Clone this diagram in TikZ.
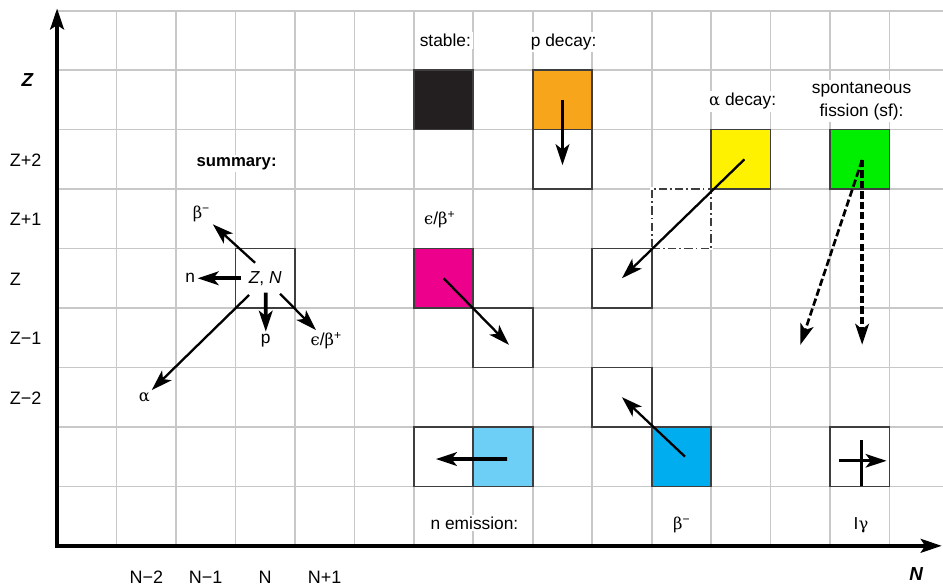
\documentclass[tikz,border=0pt]{standalone}
\usepackage{fontspec}
\setmainfont{Liberation Sans}
\newfontfamily\greekfont{DejaVu Serif}
\usetikzlibrary{positioning,calc,arrows.meta}

\definecolor{gridgray}{RGB}{200,200,200}
\definecolor{boxgray}{RGB}{62,62,62}
\definecolor{stableblack}{RGB}{35,31,32}
\definecolor{porange}{RGB}{247,166,28}
\definecolor{ecmagenta}{RGB}{236,0,140}
\definecolor{ayellow}{RGB}{255,242,0}
\definecolor{sfgreen}{RGB}{0,238,0}
\definecolor{nblue}{RGB}{109,207,246}
\definecolor{bblue}{RGB}{0,174,239}

% greek letters in the labels
\newcommand{\gk}[1]{{\greekfont\fontsize{7.8}{10}\selectfont #1}}
\newcommand{\ecbp}{\gk{ϵ}/\gk{β}\textsuperscript{+}}
\newcommand{\bm}{\gk{β}\textsuperscript{−}}

\tikzset{
  cell/.style={draw=boxgray, line width=0.8pt, fill=white, minimum size=1cm, inner sep=0pt, outer sep=0pt, font=\fontsize{8.3}{10}\selectfont},
  dashcell/.style={cell, fill=none, dash pattern=on 4pt off 1.5pt on 0.8pt off 1.5pt, preaction={draw=white, line width=1.6pt, solid}},
  lbl/.style={fill=white, inner sep=1pt, font=\fontsize{8.3}{10.8}\selectfont},
  axislbl/.style={inner sep=0pt, font=\fontsize{8.6}{10}\selectfont},
  decay/.style={-{Stealth[length=10pt,width=6.5pt,inset=2.5pt]}, line width=1.1pt},
  heavydecay/.style={decay, line width=1.8pt},
  sfline/.style={dash pattern=on 3.5pt off 1.5pt},
  axis/.style={{Stealth[length=10pt,width=6.5pt,inset=2pt]}-{Stealth[length=10pt,width=6.5pt,inset=2pt]}, line width=2pt, line join=miter}
}

\begin{document}
\begin{tikzpicture}
    \useasboundingbox (-0.96,-0.66) rectangle (14.9,9.18);

    % Grid
    \foreach \i in {1,...,9}
        \draw [gridgray, line width=0.8pt] (0,\i) -- (14.9,\i);
    \foreach \i in {1,...,14}
        \draw [gridgray, line width=0.8pt] (\i,0) -- (\i,9);

    % Axes
    \draw [axis] (0,9.04) -- (0,0) -- (14.88,0);
    \node [axislbl, anchor=base, font=\fontsize{9}{10}\selectfont\bfseries\itshape] (zaxis) at (-0.5,7.72) {Z};
    \node [axislbl, anchor=base, font=\fontsize{9}{10}\selectfont\bfseries\itshape] (naxis) at (14.45,-0.58) {N};

    % Row and column labels
    \foreach \y/\name/\txt in {6.38/zp2/Z+2, 5.38/zp1/Z+1, 4.38/z/Z, 3.38/zm1/Z−1, 2.38/zm2/Z−2}
        \node [axislbl, anchor=base west] (row\name) at (-0.8,\y) {\txt};
    \foreach \x/\name/\txt in {1.5/nm2/N−2, 2.5/nm1/N−1, 3.5/n/N, 4.5/np1/N+1}
        \node [axislbl, anchor=base] (col\name) at (\x,-0.64) {\txt};

    % Summary
    \node [lbl, anchor=base, font=\fontsize{8}{10}\selectfont\bfseries] (summary) at (3.02,6.38) {summary:};
    \node [cell] (zn) at (3.5,4.5) {\textit{Z}, \textit{N}};
    \node [lbl] (sbm) at (2.43,5.58) {\bm};
    \node [lbl] (sn) at (2.24,4.5) {n};
    \node [lbl] (sp) at (3.51,3.45) {p};
    \node [lbl] (sec) at (4.53,3.45) {\ecbp};
    \node [lbl] (sa) at (1.47,2.5) {\gk{α}};
    \draw [decay] ($(zn)+(-0.17,0.26)$) -- (sbm);
    \draw [heavydecay] ($(zn)+(-0.4,0)$) -- (sn);
    \draw [heavydecay] ($(zn)+(0.01,-0.24)$) -- (sp);
    \draw [decay] ($(zn)+(0.25,-0.26)$) -- (sec);
    \draw [decay] ($(zn)+(-0.27,-0.28)$) -- (sa);

    % Stable
    \node [lbl, anchor=base] (lstable) at (6.53,8.4) {stable:};
    \node [cell, fill=stableblack] (stable) at (6.5,7.5) {};

    % p decay
    \node [lbl, anchor=base] (lpdecay) at (8.52,8.4) {p decay:};
    \node [cell, fill=porange] (pmother) at (8.5,7.5) {};
    \node [cell] (pdaughter) at (8.5,6.5) {};
    \coordinate (ptip) at (8.5,6.4);
    \draw [heavydecay] (pmother.center) -- (ptip);

    % EC / beta+
    \node [lbl, anchor=base] (lec) at (6.44,5.4) {\ecbp};
    \node [cell, fill=ecmagenta] (ecmother) at (6.5,4.5) {};
    \node [cell] (ecdaughter) at (7.5,3.5) {};
    \coordinate (ectip) at (7.6,3.38);
    \draw [decay] (ecmother.center) -- (ectip);

    % alpha decay
    \node [lbl, anchor=base] (ladecay) at (11.53,7.4) {\gk{α} decay:};
    \node [dashcell] (ainter) at (10.5,5.5) {};
    \node [cell, fill=ayellow] (amother) at (11.5,6.5) {};
    \node [cell] (adaughter) at (9.5,4.5) {};
    \draw [decay] ($(amother.center)+(0.06,0)$) -- (adaughter.center);

    % Spontaneous fission
    \node [lbl, align=center] (lsf) at (13.53,7.48) {spontaneous\\fission (sf):};
    \node [cell, fill=sfgreen] (sfmother) at (13.5,6.5) {};
    \coordinate (sfstart) at (13.54,6.49);
    \coordinate (sftipa) at (12.5,3.38);
    \coordinate (sftipb) at (13.54,3.38);
    \draw [decay, sfline, line width=1.3pt] (sfstart) -- (sftipa);
    \draw [heavydecay, sfline] (sfstart) -- (sftipb);

    % n emission
    \node [cell] (ndaughter) at (6.5,1.5) {};
    \node [cell, fill=nblue] (nmother) at (7.5,1.5) {};
    \coordinate (ntip) at (6.37,1.46);
    \draw [heavydecay] ($(nmother.center)+(0.07,-0.04)$) -- (ntip);
    \node [lbl, anchor=base] (lnemit) at (7.02,0.28) {n emission:};

    % beta- decay
    \node [cell] (bdaughter) at (9.5,2.5) {};
    \node [cell, fill=bblue] (bmother) at (10.5,1.5) {};
    \draw [decay] ($(bmother.center)+(0.06,0)$) -- (bdaughter.center);
    \node [lbl, anchor=base] (lbdecay) at (10.51,0.28) {\bm};

    % Isomeric transition
    \node [cell] (iso) at (13.5,1.5) {};
    \draw [line width=1.8pt] ($(iso.south)+(0.03,0)$) -- ++(0,0.78);
    \draw [decay, line width=1.3pt] ($(iso.center)+(-0.35,-0.07)$) -- ($(iso.east)+(-0.05,-0.07)$);
    \node [lbl, anchor=base] (liso) at (13.52,0.28) {I\gk{γ}};
\end{tikzpicture}
\end{document}
